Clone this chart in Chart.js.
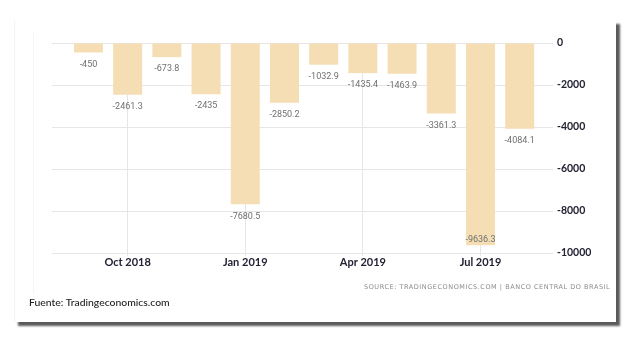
<!DOCTYPE html>
<html>
<head>
<meta charset="utf-8">
<script src="https://cdn.jsdelivr.net/npm/chart.js@4.4.0/dist/chart.umd.min.js"></script>
<style>
  html, body { margin: 0; padding: 0; background: #fff; }
  body { width: 630px; height: 340px; position: relative; overflow: hidden; }
  .card {
    position: absolute; left: 14px; top: 20px; width: 601px; height: 302px;
    background: #fff; border-left: 1px solid #f3f3f3;
    box-shadow: 4px 4px 2px #5a5a5a;
  }
  .inner-edge { position: absolute; left: 33px; top: 32px; width: 1px; height: 262px; background: #f5f5f5; }
  #chart { position: absolute; left: 0; top: 0; }
  .source {
    position: absolute; left: 364px; top: 283px; font-family: "DejaVu Sans", sans-serif;
    font-size: 6.5px; letter-spacing: 0.55px; color: #8c8c8c; white-space: nowrap;
  }
  .fuente {
    position: absolute; left: 29px; top: 296px; font-family: Lato, sans-serif;
    font-size: 10.4px; color: #222; white-space: nowrap; font-weight: 500;
  }
</style>
</head>
<body>
<div class="card"></div>
<div class="inner-edge"></div>
<canvas id="chart" width="630" height="340"></canvas>
<div class="source">SOURCE: TRADINGECONOMICS.COM | BANCO CENTRAL DO BRASIL</div>
<div class="fuente">Fuente: Tradingeconomics.com</div>
<script>
// Datos del gráfico
const months = ["Sep 2018", "Oct 2018", "Nov 2018", "Dec 2018", "Jan 2019", "Feb 2019",
  "Mar 2019", "Apr 2019", "May 2019", "Jun 2019", "Jul 2019", "Aug 2019"];
const values = [-450, -2461.3, -673.8, -2435, -7680.5, -2850.2,
  -1032.9, -1435.4, -1463.9, -3361.3, -9636.3, -4084.1];
const xTickLabels = ["Oct 2018", "Jan 2019", "Apr 2019", "Jul 2019"];
const yTicks = [0, -2000, -4000, -6000, -8000, -10000];

const barColor = "#f5deb3";

// Etiquetas de valor debajo de cada barra
const valueLabels = {
  id: "valueLabels",
  afterDatasetsDraw(chart) {
    const ctx = chart.ctx;
    const area = chart.chartArea;
    const meta = chart.getDatasetMeta(0);
    ctx.save();
    ctx.font = "9px Roboto, sans-serif";
    ctx.fillStyle = "#707070";
    ctx.textAlign = "center";
    meta.data.forEach((bar, i) => {
      const txt = String(values[i]);
      if (bar.y + 18 > area.bottom) {
        // no cabe debajo: va dentro de la barra
        ctx.textBaseline = "bottom";
        ctx.fillText(txt, bar.x, bar.y - 1);
      } else {
        ctx.textBaseline = "middle";
        ctx.fillText(txt, bar.x, bar.y + 12);
      }
    });
    ctx.restore();
  },
};

const ctx = document.getElementById("chart").getContext("2d");
new Chart(ctx, {
  type: "bar",
  data: {
    datasets: [
      {
        data: values.map((v, i) => ({ x: i, y: v })),
        backgroundColor: barColor,
        borderWidth: 0,
        barPercentage: 0.74,
        categoryPercentage: 1,
      },
    ],
  },
  options: {
    responsive: false,
    animation: false,
    layout: { padding: { left: 52, top: 43, right: 30, bottom: 67 } },
    plugins: { legend: { display: false }, tooltip: { enabled: false } },
    scales: {
      x: {
        type: "linear",
        offset: false,
        min: -0.93,
        max: 11.85,
        afterBuildTicks: (scale) => {
          scale.ticks = xTickLabels.map((l) => ({ value: months.indexOf(l) }));
        },
        afterFit: (scale) => { scale.height = 20; },
        ticks: {
          callback: (v) => months[v],
          font: { family: "Lato", size: 11, weight: "bold" },
          color: "#222233",
          padding: 0,
          maxRotation: 0,
        },
        grid: { color: "#e6e6e6", offset: false, drawTicks: true, tickLength: 3 },
        border: { display: false },
      },
      y: {
        position: "right",
        min: -10000,
        max: 0,
        afterBuildTicks: (scale) => {
          scale.ticks = yTicks.map((v) => ({ value: v }));
        },
        afterFit: (scale) => { scale.width = 47; },
        ticks: {
          callback: (v) => String(v),
          font: { family: "Lato", size: 10.5, weight: "bold" },
          color: "#222233",
          padding: 4,
        },
        grid: { color: "#e6e6e6", drawTicks: false },
        border: { display: false },
      },
    },
  },
  plugins: [valueLabels],
});
</script>
</body>
</html>
